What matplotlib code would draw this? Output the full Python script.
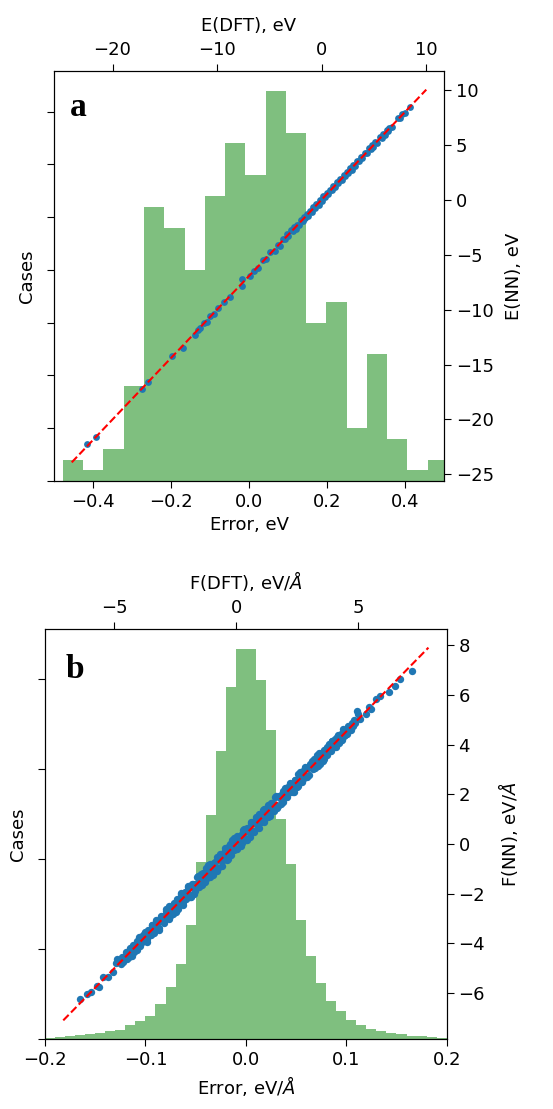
import numpy as np
import matplotlib
matplotlib.use("Agg")
import matplotlib.pyplot as plt

plt.rcParams['font.size'] = 13

# ---- panel a: energies ----
e_edges = np.linspace(-0.477, 0.510, 20)
e_counts = [2, 1, 3, 9, 26, 24, 20, 27, 32, 29, 37, 33, 15, 17, 5, 12, 4, 1, 2]

e_dft = [-22.4, -21.6, -17.2, -16.6, -14.3, -13.3, -12.1, -11.8, -11.6, -11.3,
         -11.0, -10.7, -10.3, -9.9, -9.35, -8.8, -7.6, -7.6, -6.9, -6.5,
         -6.1, -5.6, -5.3, -4.9, -4.5, -4.2, -4.0, -3.7, -3.5, -3.3,
         -3.2, -2.9, -2.7, -2.6, -2.5, -2.4, -2.2, -2.0, -1.8, -1.7,
         -1.6, -1.4, -1.3, -1.1, -0.96, -0.8, -0.6, -0.5, -0.3, -0.16,
         0.0, 0.16, 0.3, 0.5, 0.64, 0.8, 0.96, 1.1, 1.27, 1.45,
         1.6, 1.75, 1.9, 2.1, 2.25, 2.39, 2.55, 2.7, 2.87, 3.0,
         3.2, 3.4, 3.6, 3.75, 3.9, 4.14, 4.3, 4.5, 4.7, 4.85,
         4.94, 5.1, 5.3, 5.58, 5.75, 5.9, 6.05, 6.2, 6.35, 6.48,
         6.7, 7.34, 7.5, 7.66, 7.97, 8.45]
e_nn = [-22.2, -21.6, -17.2, -16.6, -14.2, -13.5, -12.3, -11.9, -11.7, -11.2,
        -11.1, -10.6, -10.4, -9.9, -9.3, -8.9, -7.25, -7.85, -6.95, -6.45,
        -6.2, -5.5, -5.4, -4.8, -4.7, -4.1, -4.2, -3.6, -3.6, -3.1,
        -3.35, -2.8, -2.9, -2.5, -2.7, -2.3, -2.3, -1.9, -1.95, -1.6,
        -1.7, -1.3, -1.45, -1.0, -1.1, -0.7, -0.75, -0.4, -0.45, -0.05,
        -0.1, 0.3, 0.2, 0.6, 0.5, 0.9, 0.85, 1.25, 1.15, 1.6,
        1.5, 1.9, 1.8, 2.25, 2.1, 2.5, 2.4, 2.85, 2.7, 3.15,
        3.05, 3.5, 3.5, 3.9, 3.8, 4.25, 4.2, 4.65, 4.6, 4.95,
        4.8, 5.2, 5.15, 5.7, 5.6, 6.0, 5.9, 6.3, 6.2, 6.55,
        6.6, 7.4, 7.4, 7.75, 7.9, 8.4]
e_line = [-23.9, 10.0]

# ---- panel b: forces ----
f_edges = np.linspace(-0.2, 0.2, 41)
f_counts = [56, 111, 150, 206, 261, 333, 428, 500, 794, 983,
            1294, 1917, 2872, 4167, 6306, 9850, 12460, 15980, 19540, 21690,
            21640, 19940, 17170, 12220, 9720, 6610, 4610, 3110, 2110, 1560,
            1080, 750, 556, 428, 306, 250, 194, 150, 111, 72]

f_dft = [-6.41, -6.11, -5.95, -5.73, -5.62, -5.45, -5.25, -5.05, -4.95, -4.88,
         -4.80, -4.74, -4.69, -4.65, -4.60, -4.54, -4.50, -4.45, -4.39, -4.35,
         -4.30, -4.24, -4.20, -4.15, -4.09, -4.05, -4.00, -3.94, -3.90, -3.85,
         -3.79, -3.75, -3.70, -3.64, -3.60, -3.55, -3.49, -3.45, -3.40, -3.34,
         -3.30, -3.25, -3.19, -3.15, -3.10, -3.04, -3.00, -2.95, -2.89, -2.85,
         -2.80, -2.74, -2.70, -2.65, -2.59, -2.55, -2.50, -2.44, -2.40, -2.35,
         -2.29, -2.25, -2.20, -2.14, -2.10, -2.05, -1.99, -1.95, -1.90, -1.84,
         -1.80, -1.75, -1.69, -1.65, -1.60, -1.54, -1.50, -1.45, -1.39, -1.35,
         -1.30, -1.24, -1.20, -1.15, -1.09, -1.05, -1.00, -0.94, -0.90, -0.85,
         -0.79, -0.75, -0.70, -0.64, -0.60, -0.55, -0.49, -0.45, -0.40, -0.34,
         -0.30, -0.25, -0.19, -0.15, -0.10, -0.04, 0.00, 0.05, 0.11, 0.15,
         0.20, 0.26, 0.30, 0.35, 0.41, 0.45, 0.50, 0.56, 0.60, 0.65,
         0.71, 0.75, 0.80, 0.86, 0.90, 0.95, 1.01, 1.05, 1.10, 1.16,
         1.20, 1.25, 1.31, 1.35, 1.40, 1.46, 1.50, 1.55, 1.61, 1.65,
         1.70, 1.76, 1.80, 1.85, 1.91, 1.95, 2.00, 2.06, 2.10, 2.15,
         2.21, 2.25, 2.30, 2.36, 2.40, 2.45, 2.51, 2.55, 2.60, 2.66,
         2.70, 2.75, 2.81, 2.85, 2.90, 2.96, 3.00, 3.05, 3.11, 3.15,
         3.20, 3.26, 3.30, 3.35, 3.41, 3.45, 3.50, 3.56, 3.60, 3.65,
         3.71, 3.75, 3.80, 3.86, 3.90, 3.95, 4.01, 4.05, 4.10, 4.16,
         4.20, 4.25, 4.31, 4.35, 4.40, 4.46, 4.50, 4.55, 4.61, 4.65,
         4.70, 4.76, 4.80, 4.85, 4.90, 4.98, 5.01, 5.10, 5.32, 5.45,
         5.56, 5.76, 5.90, 6.28, 6.51, 6.72, 7.24,
         -4.47, -4.37, -4.27, -4.17, -4.07, -3.97, -3.87, -3.77, -3.67, -3.57,
         -3.47, -3.37, -3.27, -3.17, -3.07, -2.97, -2.87, -2.77, -2.67, -2.57,
         -2.47, -2.37, -2.27, -2.17, -2.07, -1.97, -1.87, -1.77, -1.67, -1.57,
         -1.47, -1.37, -1.27, -1.17, -1.07, -0.97, -0.87, -0.77, -0.67, -0.57,
         -0.47, -0.37, -0.27, -0.17, -0.07, 0.03, 0.13, 0.23, 0.33, 0.43,
         0.53, 0.63, 0.73, 0.83, 0.93, 1.03, 1.13, 1.23, 1.33, 1.43,
         1.53, 1.63, 1.73, 1.83, 1.93, 2.03, 2.13, 2.23, 2.33, 2.43,
         2.53, 2.63, 2.73, 2.83, 2.93, 3.03, 3.13, 3.23, 3.33, 3.43,
         3.53, 3.63, 3.73, 3.83, 3.93, 4.03, 4.13, 4.23, 4.33, 4.43]
f_err = [0.17, 0.07, -0.02, 0.03, -0.12, 0.08, -0.10, -0.11, 0.15, 0.25,
         0.10, -0.08, 0.15, -0.12, 0.05, 0.18, -0.10, 0.02, -0.15, 0.12,
         -0.05, 0.16, -0.14, 0.08, 0.20, -0.06, 0.11, -0.18, 0.04, 0.14,
         -0.12, 0.22, -0.03, -0.20, 0.15, 0.06, -0.16, 0.19, -0.08, 0.10,
         0.24, -0.14, 0.03, -0.22, 0.17, -0.05, 0.12, -0.25, 0.20, -0.09,
         0.06, 0.26, -0.18, 0.10, -0.24, 0.15, -0.02, 0.22, -0.20, 0.08,
         -0.12, 0.25, -0.27, 0.05, 0.18, -0.15, 0.28, -0.06, -0.22, 0.12,
         0.20, -0.26, 0.09, -0.12, 0.27, -0.20, 0.03, 0.24, -0.28, 0.14,
         -0.05, 0.26, -0.18, 0.30, -0.24, 0.08, 0.18, -0.29, 0.12, -0.10,
         0.27, -0.22, 0.04, 0.22, -0.30, 0.15, -0.12, 0.28, -0.06, -0.25,
         0.20, 0.06, -0.27, 0.29, -0.15, 0.10, -0.22, 0.25, -0.04, 0.18,
         -0.28, 0.14, 0.27, -0.10, -0.24, 0.21, 0.02, -0.29, 0.26, -0.12,
         0.16, -0.26, 0.28, -0.05, -0.20, 0.24, -0.14, 0.09, 0.27, -0.28,
         0.12, -0.18, 0.25, -0.02, -0.27, 0.20, 0.05, -0.22, 0.28, -0.10,
         -0.24, 0.18, 0.06, -0.26, 0.22, -0.12, 0.26, -0.04, -0.20, 0.15,
         0.24, -0.16, 0.02, -0.25, 0.19, 0.08, -0.20, 0.27, -0.10, 0.12,
         -0.22, 0.20, -0.06, 0.25, -0.18, 0.10, -0.24, 0.16, 0.04, -0.15,
         0.22, -0.12, 0.08, -0.20, 0.26, -0.05, 0.14, -0.22, 0.18, -0.08,
         0.12, -0.18, 0.24, -0.04, -0.15, 0.20, -0.10, 0.16, -0.20, 0.06,
         0.18, -0.12, 0.04, -0.16, 0.22, -0.06, 0.10, -0.14, 0.15, 0.02,
         -0.10, 0.12, -0.05, 0.12, -0.05, 0.35, 0.22, -0.08, -0.10, 0.05,
         -0.13, 0.07, 0.06, -0.16, -0.15, -0.09, -0.27,
         -0.15, 0.20, -0.22, 0.12, -0.18, 0.24, -0.08, 0.16, -0.26, 0.05,
         0.22, -0.20, 0.14, -0.28, 0.18, -0.10, 0.26, -0.24, 0.08, 0.20,
         -0.26, 0.12, 0.28, -0.18, -0.06, 0.24, -0.28, 0.15, -0.22, 0.29,
         -0.14, 0.22, -0.26, 0.06, 0.28, -0.20, 0.16, -0.30, 0.25, -0.12,
         0.20, -0.28, 0.26, -0.08, 0.30, -0.24, 0.14, -0.18, 0.28, -0.26,
         0.08, 0.25, -0.22, 0.18, -0.28, 0.12, 0.26, -0.16, -0.24, 0.22,
         -0.10, 0.28, -0.20, 0.14, -0.26, 0.24, -0.06, 0.20, -0.22, 0.16,
         -0.18, 0.26, -0.12, 0.22, -0.24, 0.10, 0.20, -0.16, 0.25, -0.20,
         0.14, -0.22, 0.18, -0.10, 0.22, -0.14, 0.16, -0.18, 0.12, -0.08]
f_nn = np.array(f_dft) + np.array(f_err)
f_line = [-7.1, 7.9]

fig = plt.figure(figsize=(5.53, 11.09), dpi=100)


def panel(rect, edges, counts, dft, nn, line, letter, xlab, toplab, rightlab,
          xlim, bottom_ticks, left_ticks, top_ticks, right_ticks, letter_xy,
          msize):
    ax = fig.add_axes(rect, label=letter + "hist")
    centers = (edges[:-1] + edges[1:]) / 2
    ax.hist(centers, bins=edges, weights=counts, color='green', alpha=0.5)
    ax.set_xlim(xlim)
    ax.set_xticks(bottom_ticks)
    ax.set_yticks(left_ticks)
    ax.tick_params(labelleft=False, length=5)
    ax.set_xlabel(xlab)
    ax.set_ylabel('Cases', labelpad=8)

    ax2 = fig.add_axes(rect, label=letter + "scatter", facecolor='none')
    ax2.scatter(dft, nn, s=msize, color='C0', linewidths=0)
    ax2.plot(line, line, 'r--', lw=1.5)
    ax2.xaxis.tick_top()
    ax2.xaxis.set_label_position('top')
    ax2.yaxis.tick_right()
    ax2.yaxis.set_label_position('right')
    ax2.set_xticks(top_ticks)
    ax2.set_yticks(right_ticks)
    ax2.tick_params(length=5)
    ax2.set_xlabel(toplab, labelpad=7)
    ax2.set_ylabel(rightlab, labelpad=8)
    ax2.text(letter_xy[0], letter_xy[1], letter, transform=ax2.transAxes,
             fontsize=24, fontweight='bold', family='Liberation Serif')
    return ax, ax2


panel([54 / 553, 628 / 1109, 390 / 553, 410 / 1109], e_edges, e_counts,
      e_dft, e_nn, e_line, 'a', 'Error, eV', 'E(DFT), eV', 'E(NN), eV',
      (-0.5, 0.5), [-0.4, -0.2, 0.0, 0.2, 0.4], [0, 5, 10, 15, 20, 25, 30, 35],
      [-20, -10, 0, 10], [-25, -20, -15, -10, -5, 0, 5, 10], (0.04, 0.89), 24)

panel([45 / 553, 70 / 1109, 401.7 / 553, 410 / 1109], f_edges, f_counts,
      f_dft, f_nn, f_line, 'b', r'Error, eV/$\AA$', r'F(DFT), eV/$\AA$',
      r'F(NN), eV/$\AA$', (-0.2, 0.2), [-0.2, -0.1, 0.0, 0.1, 0.2],
      [0, 5000, 10000, 15000, 20000], [-5, 0, 5], [-6, -4, -2, 0, 2, 4, 6, 8],
      (0.05, 0.88), 28)

plt.savefig("out.png", dpi=100)
